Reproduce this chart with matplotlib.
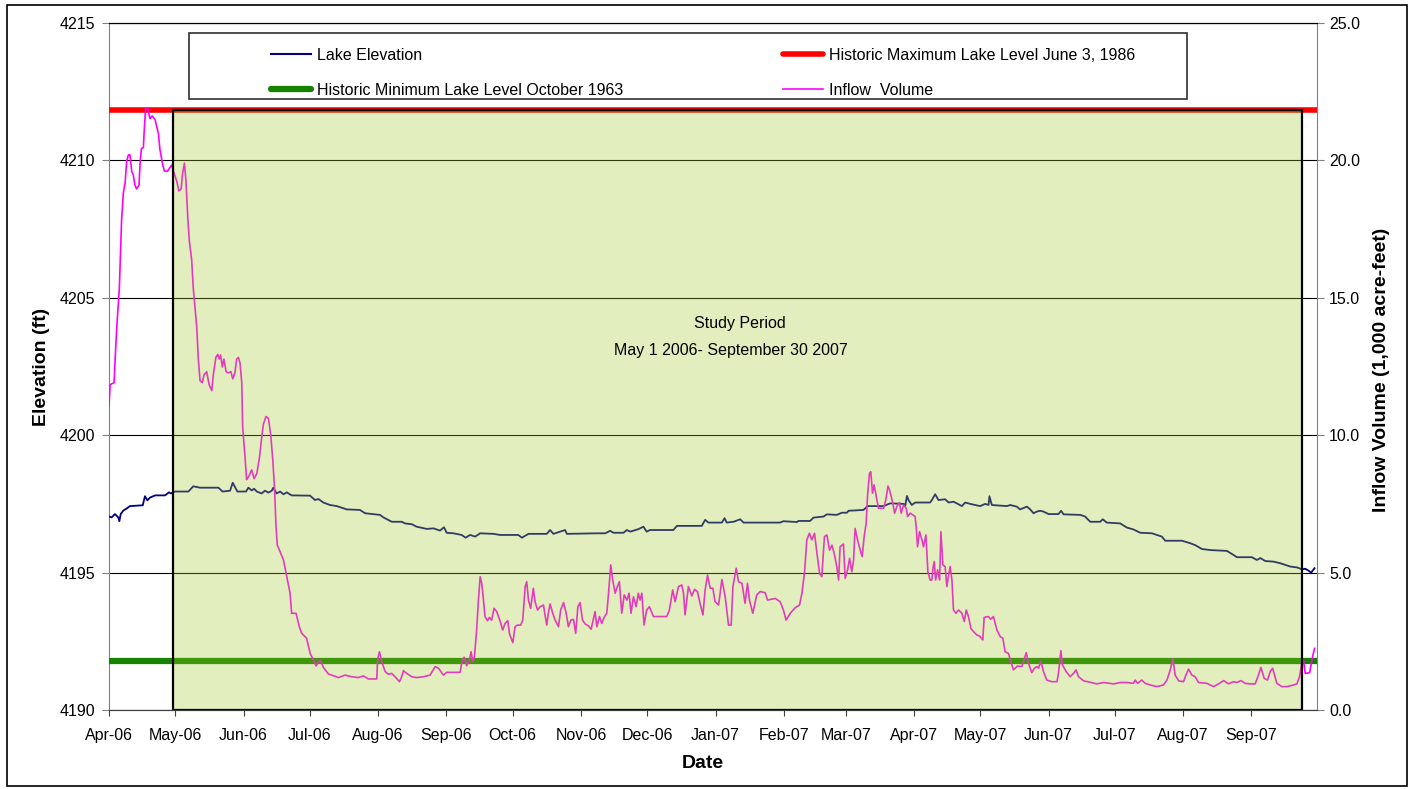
import numpy as np
import matplotlib.pyplot as plt
import matplotlib.dates as mdates
from matplotlib.patches import Rectangle
from matplotlib.lines import Line2D

plt.rcParams['font.family'] = ['Liberation Sans', 'DejaVu Sans']

# days are counted from 1 April 2006
start = np.datetime64('2006-04-01')

# inflow volume (1,000 acre-feet)
inflow_day = [0, 0.5, 2.3, 2.7, 3.5, 4.7, 5.7, 6.5, 7.3, 8.0, 8.8, 9.5, 10.3, 11.0, 11.8, 12.5,
              13.6, 14.1, 14.7, 15.6, 15.9, 16.6, 17.4, 18.6, 19.6, 20.9, 22.4, 23.1, 24.2, 25.1,
              26.6, 27.7, 28.4, 29.2, 30.7, 31.7, 32.7, 33.4, 34.2, 34.9, 35.7, 36.4, 37.5, 38.2,
              39.8, 40.5, 41.3, 42.3, 43.1, 44.3, 45.4, 46.6, 47.3, 48.5, 49.3, 50.0, 50.6, 51.4,
              52.1, 53.1, 54.1, 55.3, 56.1, 57.1, 57.9, 58.7, 59.4, 60.2, 60.6, 61.7, 62.4, 63.5,
              64.7, 65.8, 67.0, 68.2, 69.2, 70.0, 71.2, 72.3, 73.3, 74.2, 75.0, 75.7, 76.3,
              77.6, 79.1, 80.6, 82.1, 82.8, 84.8, 86.3, 87.4, 89.6, 91.2, 92.7, 93.9, 94.9, 96.0,
              97.2, 99.5, 101.7, 104.0, 107.0, 110.0, 113.1, 115.3, 117.6, 119.9, 121.4, 121.8,
              122.6, 123.7, 125.2, 126.7, 128.2, 129.7, 131.7, 132.7, 133.5, 135.0, 137.3, 139.5,
              142.6, 145.6, 147.9, 149.4, 151.6, 153.1, 159.2, 159.9, 161.0, 162.2, 163.4, 164.2,
              164.9, 165.7, 166.7, 167.5, 168.3, 169.0, 169.8, 170.5, 171.6, 172.5, 173.5, 174.6,
              175.8, 177.3, 178.5, 179.6, 180.8, 181.6, 183.1, 184.1, 185.2, 186.7, 187.6, 188.7,
              189.4, 190.2, 191.2, 192.4, 193.2, 194.3, 195.5, 197.0, 197.7, 198.5, 199.2, 200.0,
              201.2, 202.3, 203.8, 204.8, 206.1, 207.3, 208.3, 209.4, 210.6, 211.6, 212.6, 213.6,
              214.7, 215.9, 217.4, 218.6, 219.7, 220.4, 221.2, 222.4, 223.4, 224.5, 225.7, 226.5,
              227.5, 228.4, 229.5, 230.5, 231.4, 232.5, 233.6, 234.8, 235.8, 236.7, 237.8, 239.0,
              240.0, 240.8, 241.6, 242.6, 243.8, 245.0, 246.9, 252.9, 254.1, 255.6, 256.7, 258.2,
              259.7, 260.5, 261.2, 262.7, 264.3, 265.5, 266.8, 268.0, 269.3, 270.3, 271.4, 272.6,
              273.8, 274.8, 276.4, 277.9, 279.4, 280.9, 282.1, 282.9, 284.4, 285.4, 287.0, 288.4,
              289.5, 290.4, 291.9, 293.7, 295.3, 297.5, 298.6, 302.1, 304.3, 305.8, 307.0, 308.9,
              311.1, 313.1, 314.2, 315.4, 316.4, 317.6, 318.7, 319.9, 321.0, 322.2, 323.2, 324.4,
              325.5, 326.7, 327.8, 328.8, 330.0, 330.8, 331.5, 333.0, 333.8, 334.9, 335.8, 336.8,
              337.6, 338.3, 339.4, 340.6, 341.5, 342.4, 343.3, 343.9, 344.8, 345.4, 346.2, 346.9,
              347.9, 348.9, 351.2, 352.2, 353.2, 353.9, 354.7, 355.4, 356.2, 357.2, 358.4, 359.2,
              360.3, 361.5, 362.1, 363.3, 364.5, 365.5, 366.0, 366.6, 367.5, 368.6, 369.3, 370.4,
              371.3, 372.3, 373.1, 373.6, 374.2, 374.8, 375.7, 376.6, 377.2, 378.1, 379.1, 379.9,
              380.8, 381.4, 382.2, 382.9, 384.0, 385.2, 386.7, 387.8, 388.7, 389.7, 390.8, 392.0,
              393.5, 394.7, 396.2, 396.8, 398.8, 399.8, 401.0, 402.6, 404.1, 405.3, 406.3, 407.8,
              408.9, 410.1, 411.9, 413.9, 415.9, 416.9, 418.4, 419.6, 420.7, 421.5, 422.5, 423.7,
              425.2, 427.5, 429.8, 430.5, 431.6, 432.3, 434.0, 435.8, 437.3, 438.5, 439.6, 441.9,
              444.9, 447.9, 450.9, 455.5, 458.5, 461.5, 464.5, 465.3, 466.4, 468.3, 469.8, 472.1,
              475.1, 478.1, 479.7, 481.2, 482.4, 483.4, 485.0, 487.2, 488.3, 489.5, 491.0, 492.5,
              494.0, 497.8, 500.8, 503.1, 505.4, 507.6, 509.9, 511.4, 513.2, 515.2, 517.4, 519.7,
              521.2, 522.3, 523.8, 525.3, 526.5, 527.6, 528.5, 529.5, 531.8, 534.1, 537.1, 538.6,
              539.8, 540.9, 541.6, 542.4, 544.4, 545.4, 546.6]
inflow_vol = [11.04, 11.84, 11.91, 12.63, 13.9, 15.36, 17.81, 18.82, 19.18, 19.97, 20.2, 20.2, 19.6,
              19.47, 19.1, 18.96, 19.1, 19.9, 20.43, 20.47, 20.98, 21.91, 21.91, 21.52, 21.62, 21.48,
              20.98, 20.4, 19.9, 19.61, 19.61, 19.75, 19.83, 19.61, 19.25, 18.89, 18.96, 19.54, 19.9,
              19.25, 17.95, 17.09, 16.37, 15.36, 13.92, 12.77, 11.98, 11.91, 12.2, 12.31, 11.84,
              11.62, 12.2, 12.84, 12.94, 12.77, 12.92, 12.48, 12.77, 12.31, 12.27, 12.31, 12.05,
              12.27, 12.77, 12.83, 12.63, 11.91, 10.32, 9.17, 8.38, 8.52, 8.74, 8.42, 8.6, 9.17,
              9.89, 10.4, 10.68, 10.61, 10.04, 9.17, 8.17, 6.73, 6.0,
              5.76, 5.46, 4.85, 4.25, 3.52, 3.52, 3.03, 2.79, 2.61, 2.06, 1.82, 1.60, 1.76, 1.80,
              1.55, 1.31, 1.25, 1.18, 1.27, 1.21, 1.18, 1.24, 1.13, 1.13, 1.13, 1.82, 2.12, 1.76,
              1.40, 1.30, 1.33, 1.21, 1.03, 1.21, 1.43, 1.33, 1.21, 1.18, 1.21, 1.27, 1.58, 1.52,
              1.27, 1.37, 1.37, 1.70, 1.92, 1.61, 1.82, 2.12, 1.76, 1.94, 2.91, 4.00, 4.85, 4.61,
              4.00, 3.40, 3.25, 3.37, 3.27, 3.70, 3.58, 3.25, 2.91, 3.15, 3.25, 2.77, 2.45, 3.03,
              3.09, 3.09, 3.27, 4.49, 4.67, 4.00, 3.70, 4.43, 3.94, 3.64, 3.76, 3.82, 3.46, 3.09,
              3.52, 3.86, 3.52, 3.27, 3.03, 3.64, 3.91, 3.52, 3.03, 3.27, 3.30, 2.79, 3.76, 3.91,
              3.27, 3.13, 3.06, 2.94, 3.34, 3.58, 3.03, 3.40, 3.15, 3.37, 3.52, 4.25, 5.28, 4.73,
              4.25, 4.49, 4.67, 3.52, 4.19, 4.00, 4.25, 3.52, 4.12, 3.76, 4.25, 4.00, 4.25, 3.09,
              3.64, 3.76, 3.40, 3.40, 3.64, 4.37, 3.94, 4.49,
              4.55, 4.25, 3.46, 4.49, 4.15, 4.39, 4.31, 3.88, 3.46, 4.37, 4.91, 4.43, 4.43, 3.94,
              3.82, 4.75, 4.12, 3.09, 3.09, 4.49, 5.16, 4.67, 4.61, 3.88, 4.61, 4.00, 3.52, 4.19,
              4.31, 4.27, 4.00, 4.06, 3.94, 3.64, 3.27, 3.52, 3.72, 3.82, 4.25, 5.03, 6.19, 6.43,
              6.19, 6.43, 5.70, 4.97, 4.85, 6.31, 6.37, 5.82, 6.00, 5.70, 5.22, 4.73, 5.94, 6.04,
              4.79, 5.10, 5.52, 5.03, 5.46, 6.61, 6.19, 5.82, 5.58, 6.31, 6.79, 7.76, 8.61, 8.67,
              7.89, 8.19, 7.76, 7.34, 7.34, 7.64, 8.15, 8.01, 7.76, 7.52, 7.16, 7.40, 7.55, 7.16,
              7.46, 7.34, 7.04, 7.16, 7.10, 7.04, 6.67, 5.94, 6.49, 6.19, 5.94, 6.37, 5.03, 4.73,
              4.73, 5.16, 5.40, 4.73, 5.10, 4.73, 6.49, 5.28, 5.22, 4.49, 4.97, 5.22, 4.73, 3.64,
              3.52, 3.64, 3.52, 3.22, 3.64, 3.40, 2.97, 2.85, 2.73, 2.69,
              2.55, 3.37, 3.40, 3.30, 3.40, 2.91, 2.67, 2.61, 2.12, 2.06, 1.76, 1.46, 1.60, 1.58,
              2.09, 1.70, 1.36, 1.52, 1.58, 1.52, 1.78, 1.40, 1.09, 1.03, 1.03, 1.33, 2.16, 1.64,
              1.40, 1.21, 1.33, 1.46, 1.21, 1.06, 1.01, 0.95, 1.00, 0.95, 1.00, 1.00, 0.97, 1.09,
              0.97, 1.09, 0.97, 0.91, 0.85, 0.91, 1.09, 1.46, 1.86, 1.27, 1.06, 1.03, 1.27, 1.49,
              1.27, 1.21, 1.00, 0.97, 0.85, 0.95, 1.07, 0.95, 1.03, 1.00, 1.07, 0.97, 0.95, 0.95,
              1.27, 1.55, 1.15, 1.09, 1.40, 1.52, 1.27, 0.97, 0.85, 0.85, 0.91, 0.95, 1.21, 1.76,
              1.82, 1.33, 1.36, 1.82, 2.24]

# lake elevation (ft)
elev_day = [0, 1.2, 2.7, 4.2, 4.7, 5.3, 6.5, 8.0, 9.5, 15.3, 16.3, 17.4, 18.6, 20.9, 25.4, 27.2,
            28.0, 29.9, 36.0, 38.2, 41.3, 49.6, 51.5, 54.9, 56.1, 57.1, 58.2, 62.1, 63.2, 64.7,
            65.8, 67.0, 69.2, 70.7, 72.3, 73.8, 74.5, 76.0, 77.6, 79.1, 80.6, 82.8, 91.2, 93.4,
            94.9, 97.2, 100.2, 103.3, 107.8, 113.8, 116.1, 122.9, 124.4, 128.2, 132.7, 134.2,
            137.3, 139.5, 144.1, 147.1, 150.1, 151.9, 153.1, 156.2, 159.9, 161.7, 163.7, 166.0,
            168.3, 174.3, 177.3, 185.6, 187.2, 190.2, 198.5, 200.0, 201.5, 206.8, 207.6, 221.2,
            225.0, 227.2, 228.7, 233.3, 234.8, 236.3, 240.0, 242.3, 243.8, 245.3, 255.9, 257.5,
            268.8, 270.3, 271.8, 277.9, 279.1, 280.1, 283.2, 286.2, 287.7, 304.3, 305.8, 311.9,
            312.6, 317.9, 319.4, 324.0, 325.5, 330.0, 332.3, 334.6, 335.3, 342.1, 344.0, 351.2,
            354.2, 360.3, 361.0, 361.8, 362.5, 364.0, 365.5, 372.3, 373.1, 374.6, 376.1, 379.1,
            380.7, 382.9, 384.4, 386.7, 388.2, 390.5, 395.0, 397.3, 398.8, 399.2, 400.3, 407.1,
            408.6, 411.6, 413.1, 416.2, 417.7, 419.2, 420.7, 422.2, 423.7, 426.0, 430.5, 431.7,
            432.8, 440.4, 442.6, 444.9, 449.4, 450.6, 452.4, 458.5, 461.5, 464.5, 467.6, 472.9,
            477.4, 478.9, 486.5, 490.2, 492.5, 495.5, 499.3, 506.9, 509.9, 511.4, 518.2, 520.5,
            522.0, 524.3, 528.0, 531.1, 535.6, 538.6, 540.9, 542.4, 543.9, 545.1, 546.6]
elev_ft = [4197.04, 4197.01, 4197.13, 4197.01, 4196.87, 4197.13, 4197.26, 4197.33, 4197.42,
           4197.45, 4197.78, 4197.63, 4197.73, 4197.81, 4197.81, 4197.92, 4197.88, 4197.95,
           4197.95, 4198.14, 4198.09, 4198.09, 4197.95, 4197.98, 4198.27, 4198.12, 4197.95,
           4197.95, 4198.09, 4197.99, 4198.05, 4197.95, 4197.88, 4197.98, 4197.91, 4197.98,
           4198.09, 4197.88, 4197.95, 4197.85, 4197.92, 4197.81, 4197.80, 4197.64, 4197.68,
           4197.55, 4197.46, 4197.42, 4197.30, 4197.28, 4197.16, 4197.10, 4197.01, 4196.85,
           4196.85, 4196.79, 4196.76, 4196.67, 4196.59, 4196.61, 4196.53, 4196.65, 4196.45,
           4196.43, 4196.37, 4196.27, 4196.37, 4196.31, 4196.43, 4196.41, 4196.37, 4196.37,
           4196.27, 4196.41, 4196.41, 4196.55, 4196.41, 4196.55, 4196.41, 4196.43, 4196.43,
           4196.52, 4196.45, 4196.45, 4196.55, 4196.49, 4196.58, 4196.67, 4196.49, 4196.55,
           4196.55, 4196.70, 4196.70, 4196.92, 4196.82, 4196.82, 4196.98, 4196.82, 4196.85,
           4196.94, 4196.82, 4196.82, 4196.87, 4196.84, 4196.88, 4196.88, 4197.00, 4197.04,
           4197.12, 4197.10, 4197.18, 4197.18, 4197.25, 4197.28, 4197.42, 4197.42, 4197.52,
           4197.50, 4197.42, 4197.79, 4197.64, 4197.46, 4197.55, 4197.55, 4197.64, 4197.85,
           4197.64, 4197.67, 4197.55, 4197.58, 4197.52, 4197.42, 4197.55, 4197.50, 4197.42,
           4197.50, 4197.46, 4197.78, 4197.46, 4197.42, 4197.46, 4197.40, 4197.30, 4197.40,
           4197.30, 4197.16, 4197.22, 4197.25, 4197.22, 4197.13, 4197.13, 4197.25, 4197.12,
           4197.10, 4197.04, 4196.85, 4196.85, 4196.94, 4196.82, 4196.79, 4196.64, 4196.57,
           4196.45, 4196.43, 4196.31, 4196.16, 4196.16, 4196.07, 4196.00, 4195.86, 4195.82,
           4195.79, 4195.64, 4195.56, 4195.56, 4195.46, 4195.53, 4195.42, 4195.40, 4195.34,
           4195.22, 4195.19, 4195.12, 4195.14, 4195.07, 4195.00, 4195.16]

hist_max = 4211.85
hist_min = 4191.8
study_box = ('2006-04-30', '2007-09-24')
x_end = 547.5

t0 = mdates.date2num(start)
x_in = t0 + np.array(inflow_day)
x_el = t0 + np.array(elev_day)

fig = plt.figure(figsize=(14.14, 7.89), dpi=100)
ax = fig.add_axes([109 / 1414, 1 - 710 / 789, 1207.5 / 1414, 687 / 789])
ax2 = ax.twinx()

ax.axhline(hist_max, color='#ff0000', lw=4, zorder=3)
ax.axhline(hist_min, color='#158200', lw=4.5, zorder=3)
ax.plot(x_el, elev_ft, color='#000080', lw=1.3, zorder=4)
ax2.plot(x_in, inflow_vol, color='#ff00ff', lw=1.2, zorder=2)

# study period box (semi transparent, lies over the lines)
b0 = mdates.date2num(np.datetime64(study_box[0]))
b1 = mdates.date2num(np.datetime64(study_box[1]))
box = Rectangle((b0, 4190), b1 - b0, hist_max - 4190, transform=ax.transData,
                facecolor=(0.63, 0.79, 0.15, 0.3), edgecolor='black', lw=1.6, zorder=3)
ax2.add_patch(box)

ax.set_xlim(t0, t0 + x_end)
ax.set_ylim(4190, 4215)
ax2.set_ylim(0, 25)
ax.set_yticks(np.arange(4190, 4216, 5))
ax2.set_yticks(np.arange(0, 26, 5))
ax2.yaxis.set_major_formatter(plt.FormatStrFormatter('%.1f'))
ax.xaxis.set_major_locator(mdates.MonthLocator())
ax.xaxis.set_major_formatter(mdates.DateFormatter('%b-%y'))

ax.grid(axis='y', color='black', lw=0.8)
ax.set_axisbelow(True)
for a in (ax, ax2):
    a.spines['left'].set_color('#808080')
    a.spines['right'].set_color('#808080')
    a.spines['bottom'].set_color('#404040')
    a.spines['top'].set_color('black')
    a.spines['top'].set_linewidth(0.8)
ax.spines['right'].set_visible(False)
ax2.spines['left'].set_visible(False)
ax.tick_params(axis='y', direction='out', length=5, color='#808080', labelsize=11.5, pad=5)
ax2.tick_params(axis='y', direction='out', length=5, color='#808080', labelsize=11.5, pad=4)
ax.tick_params(axis='x', direction='out', length=4, color='#404040', labelsize=11.5, pad=9)

fig.text(41 / 1414, 1 - 367 / 789, 'Elevation (ft)', rotation=90, ha='center', va='center',
         fontsize=14, fontweight='bold')
fig.text(1381 / 1414, 1 - 370 / 789, 'Inflow Volume (1,000 acre-feet)', rotation=90,
         ha='center', va='center', fontsize=14, fontweight='bold')
fig.text(703 / 1414, 1 - 763 / 789, 'Date', ha='center', va='center', fontsize=14,
         fontweight='bold')

ax2.text(0.5226, 0.5633, 'Study Period', transform=ax2.transAxes, ha='center', va='center',
         fontsize=11.5, zorder=6)
ax2.text(0.5149, 0.524, 'May 1 2006- September 30 2007', transform=ax2.transAxes, ha='center',
         va='center', fontsize=11.5, zorder=6)

# legend with its own frame
frame = Rectangle((189 / 1414, 1 - 99 / 789), 998 / 1414, 66 / 789, transform=fig.transFigure,
                  facecolor='white', edgecolor='#303030', lw=1.2, zorder=4)
fig.patches.append(frame)
handles = [Line2D([], [], color='#000080', lw=1.5),
           Line2D([], [], color='#158200', lw=4.5, solid_capstyle='round'),
           Line2D([], [], color='#ff0000', lw=4, solid_capstyle='round'),
           Line2D([], [], color='#ff00ff', lw=1.2)]
labels = ['Lake Elevation', 'Historic Minimum Lake Level October 1963',
          'Historic Maximum Lake Level June 3, 1986', 'Inflow  Volume']
fig.legend(handles, labels, ncol=2, loc='upper left', bbox_to_anchor=(263 / 1414, 1 - 40 / 789),
           frameon=False, borderpad=0, fontsize=11.5, handlelength=2.5, handletextpad=0.37,
           columnspacing=10.0, labelspacing=1.25)

# outer chart border
fig.patches.append(Rectangle((0.005, 0.004), 0.99, 0.99, transform=fig.transFigure, fill=False,
                             edgecolor='black', lw=1.2, zorder=1))

fig.savefig('out.png', dpi=100)
